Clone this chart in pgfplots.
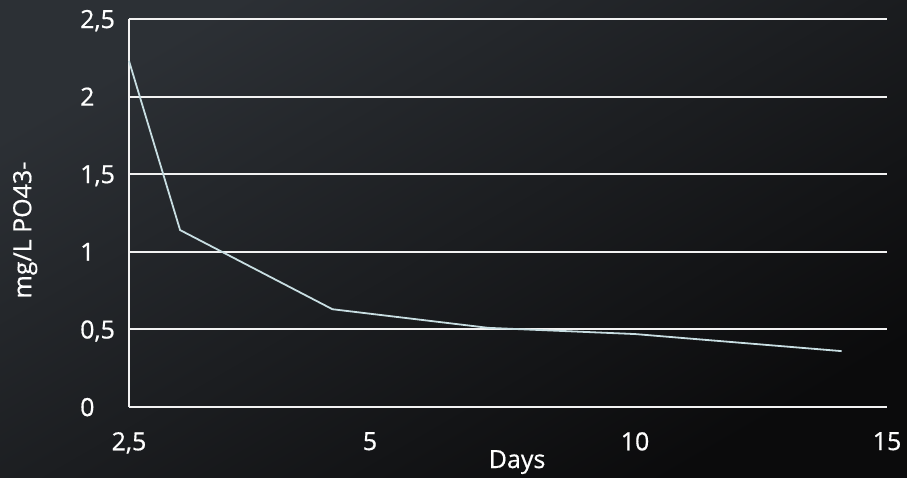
\documentclass[border=0pt]{standalone}
\usepackage{pgfplots}
\pgfplotsset{compat=1.18}
\usepackage{fontspec}
\setmainfont{Open Sans}
\newfontfamily\lblfont[FakeBold=0.6]{Open Sans}
\definecolor{bgtop}{HTML}{2C3035}
\definecolor{bgmid}{HTML}{17181C}
\definecolor{bgbot}{HTML}{0B0B0C}
\definecolor{gridc}{HTML}{F2F2F2}
\definecolor{linec}{RGB}{200,222,226}
\newcommand{\lbl}{\lblfont\fontsize{25}{30}\selectfont}
\begin{document}
\begin{tikzpicture}
\useasboundingbox (0,0) rectangle (907pt,478pt);
\shade[top color=bgtop, middle color=bgmid, bottom color=bgbot, shading angle=30] (0,0) rectangle (907pt,478pt);
\begin{axis}[
    at={(129pt,71pt)}, anchor=south west,
    scale only axis,
    width=758pt, height=388pt,
    % uneven spacing of the x ticks in the source chart
    x coord trafo/.code={\pgfmathparse{#1<5 ? (#1-2.5)*96.4 : (#1<10 ? 241+(#1-5)*53 : 506+(#1-10)*50.4)}},
    xmin=2.5, xmax=15,
    ymin=0, ymax=2.5,
    xtick={2.5,5,10,15},
    xticklabels={{2,5},5,10,15},
    ytick={0,0.5,1,1.5,2,2.5},
    yticklabels={0,{0,5},1,{1,5},2,{2,5}},
    major tick length=0pt,
    axis x line*=bottom, axis y line*=left,
    axis line style={draw=gridc, line width=2pt},
    ymajorgrids=true,
    grid style={draw=gridc, line width=2pt},
    tick label style={font=\lbl, text=white, inner sep=0pt},
    xticklabel style={anchor=north, yshift=-25pt},
    yticklabel style={anchor=west, xshift=-49pt, text depth=0pt},
    xlabel={Days},
    ylabel={mg/L PO43-},
    label style={font=\lbl, text=white},
    xlabel style={at={(axis description cs:0.512,-0.142)}, anchor=center},
    ylabel style={at={(axis description cs:-0.137,0.456)}, anchor=center},
    clip=false,
]
\addplot[color=linec, line width=1.8pt, mark=none]
    coordinates {(2.5,2.23)(3.03,1.14)(4.61,0.63)(7.23,0.51)(10,0.47)(14.1,0.36)};
\end{axis}
\end{tikzpicture}
\end{document}
